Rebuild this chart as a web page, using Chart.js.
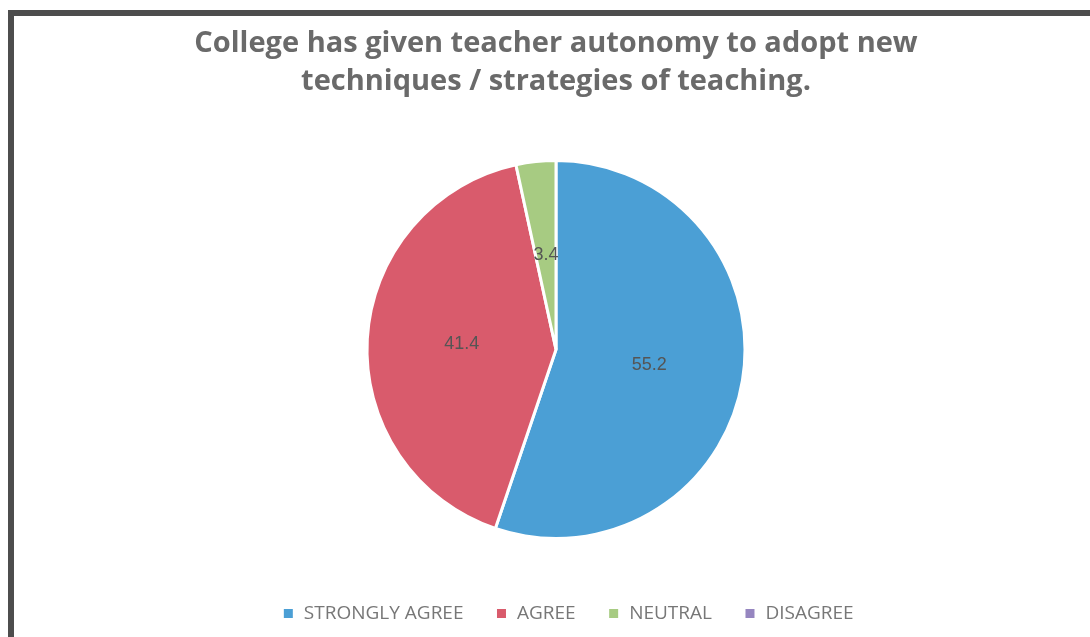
<!DOCTYPE html>
<html>
<head>
<meta charset="utf-8">
<script src="https://cdn.jsdelivr.net/npm/chart.js@4"></script>
<style>
  html, body { margin: 0; padding: 0; background: #fff; }
  #wrap { position: relative; width: 1090px; height: 637px; overflow: hidden; }
  #frame { position: absolute; left: 8px; top: 10px; width: 1100px; height: 700px;
           border-top: 6px solid #4d4d4d; border-left: 6px solid #4d4d4d; }
  canvas { position: absolute; left: 0; top: 0; }
</style>
</head>
<body>
<div id="wrap">
  <div id="frame"></div>
  <canvas id="chart" width="1090" height="637"></canvas>
</div>
<script>
const titleLines = ["College has given teacher autonomy to adopt new", "techniques / strategies of teaching."];
const categories = ["STRONGLY AGREE", "AGREE", "NEUTRAL", "DISAGREE"];
const values = [55.2, 41.4, 3.4, 0];
const colors = ["#4b9fd5", "#d95b6c", "#a7cb82", "#9686c0"];

// labels in the middle of each slice, like Excel
const sliceLabels = {
  id: "sliceLabels",
  afterDatasetsDraw(chart) {
    const ctx = chart.ctx;
    const meta = chart.getDatasetMeta(0);
    ctx.save();
    ctx.font = "18px 'Liberation Sans', sans-serif";
    ctx.fillStyle = "#555555";
    ctx.textAlign = "center";
    ctx.textBaseline = "middle";
    meta.data.forEach((arc, i) => {
      if (!values[i]) return;
      const p = arc.getProps(["x", "y", "startAngle", "endAngle", "outerRadius"], true);
      const mid = (p.startAngle + p.endAngle) / 2;
      const r = p.outerRadius * 0.5;
      ctx.fillText(values[i], p.x + Math.cos(mid) * r, p.y + Math.sin(mid) * r);
    });
    ctx.restore();
  }
};

// the legend sits a bit right of the pie in the original
const nudgeLegend = {
  id: "nudgeLegend",
  afterLayout(chart) {
    chart.legend.left += 12;
    chart.legend.right += 12;
  }
};

new Chart(document.getElementById("chart"), {
  type: "pie",
  data: {
    labels: categories,
    datasets: [{
      data: values,
      backgroundColor: colors,
      borderColor: "#ffffff",
      borderWidth: 3,
      radius: 189
    }]
  },
  options: {
    responsive: false,
    animation: false,
    layout: { padding: { top: 14, bottom: 4, left: 22 } },
    plugins: {
      title: {
        display: true,
        text: titleLines,
        color: "#6a6a6a",
        font: { family: "'Open Sans', sans-serif", size: 29, weight: "bold", lineHeight: 1.31 },
        padding: { top: 11, bottom: 26 }
      },
      legend: {
        position: "bottom",
        labels: {
          color: "#777777",
          font: { family: "'Open Sans', sans-serif", size: 19 },
          boxWidth: 12,
          boxHeight: 12,
          padding: 32
        }
      },
      tooltip: { enabled: false }
    }
  },
  plugins: [sliceLabels, nudgeLegend]
});
</script>
</body>
</html>
